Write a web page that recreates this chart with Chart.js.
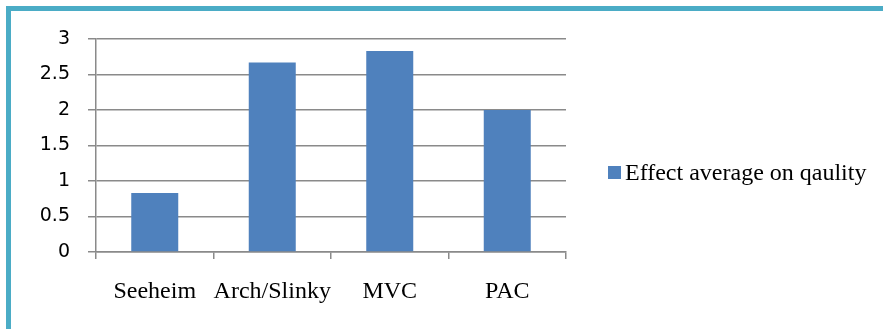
<!DOCTYPE html>
<html>
<head>
<meta charset="utf-8">
<script src="https://cdn.jsdelivr.net/npm/chart.js@4"></script>
<style>
    html, body { margin: 0; padding: 0; background: #fff; overflow: hidden; }
    #frame {
        position: absolute; left: 6px; top: 6px; width: 1000px; height: 1000px;
        border-top: 5px solid #4bacc6; border-left: 5px solid #4bacc6;
    }
    #wrap { position: absolute; left: 0; top: 0; width: 883px; height: 329px; }
    #legend {
        position: absolute; left: 608px; top: 157px; height: 30px;
        display: flex; align-items: center;
        font-family: "Liberation Serif", "Times New Roman", serif; font-size: 24px; color: #000;
        white-space: nowrap;
    }
    #legend .box { width: 13px; height: 13px; margin-right: 4px; margin-top: 1px; }
</style>
</head>
<body>
<div id="frame"></div>
<div id="wrap"><canvas id="qualityChart"></canvas></div>
<div id="legend"></div>
<script>
const categories = ['Seeheim', 'Arch/Slinky', 'MVC', 'PAC'];
const seriesName = 'Effect average on qaulity';
const seriesValues = [0.83, 2.67, 2.83, 2.0];
const yTicks = [0, 0.5, 1, 1.5, 2, 2.5, 3];

const gridGrey = '#8a8a8a';

document.addEventListener('DOMContentLoaded', () => {
    const canvas = document.getElementById('qualityChart');

    const chart = new Chart(canvas, {
        type: 'bar',
        data: {
            labels: categories,
            datasets: [{
                label: seriesName,
                data: seriesValues,
                backgroundColor: '#4f81bd',
                borderWidth: 0,
                categoryPercentage: 0.8,
                barPercentage: 0.5
            }]
        },
        options: {
            responsive: true,
            maintainAspectRatio: false,
            animation: false,
            layout: {
                // plot area: x 96..566, y 39..252
                padding: { left: 10, top: 39, right: 317, bottom: 24 }
            },
            scales: {
                x: {
                    grid: {
                        offset: true,
                        drawOnChartArea: false,
                        drawTicks: true,
                        tickLength: 7,
                        lineWidth: 1.5,
                        color: gridGrey
                    },
                    border: { color: gridGrey, width: 1.5 },
                    ticks: {
                        color: '#000',
                        padding: 18,
                        autoSkip: false,
                        maxRotation: 0,
                        font: { family: '"Liberation Serif", "Times New Roman", serif', size: 24 }
                    },
                    afterFit: (scale) => { scale.height = 53; }
                },
                y: {
                    min: 0,
                    max: 3,
                    afterBuildTicks: (scale) => { scale.ticks = yTicks.map(v => ({ value: v })); },
                    grid: {
                        color: gridGrey,
                        tickLength: 8,
                        lineWidth: 1.5
                    },
                    border: { color: gridGrey, width: 1.5 },
                    ticks: {
                        color: '#000',
                        padding: 18,
                        font: { family: '"DejaVu Sans", sans-serif', size: 19 },
                        callback: (v) => v.toString()
                    },
                    afterFit: (scale) => { scale.width = 86; }
                }
            },
            plugins: {
                legend: { display: false },
                tooltip: { enabled: false }
            }
        }
    });

    // legend built from the chart's own legend items
    const legendEl = document.getElementById('legend');
    Chart.defaults.plugins.legend.labels.generateLabels(chart).forEach(item => {
        const box = document.createElement('span');
        box.className = 'box';
        box.style.background = item.fillStyle;
        const text = document.createElement('span');
        text.textContent = item.text;
        legendEl.appendChild(box);
        legendEl.appendChild(text);
    });
});
</script>
</body>
</html>
